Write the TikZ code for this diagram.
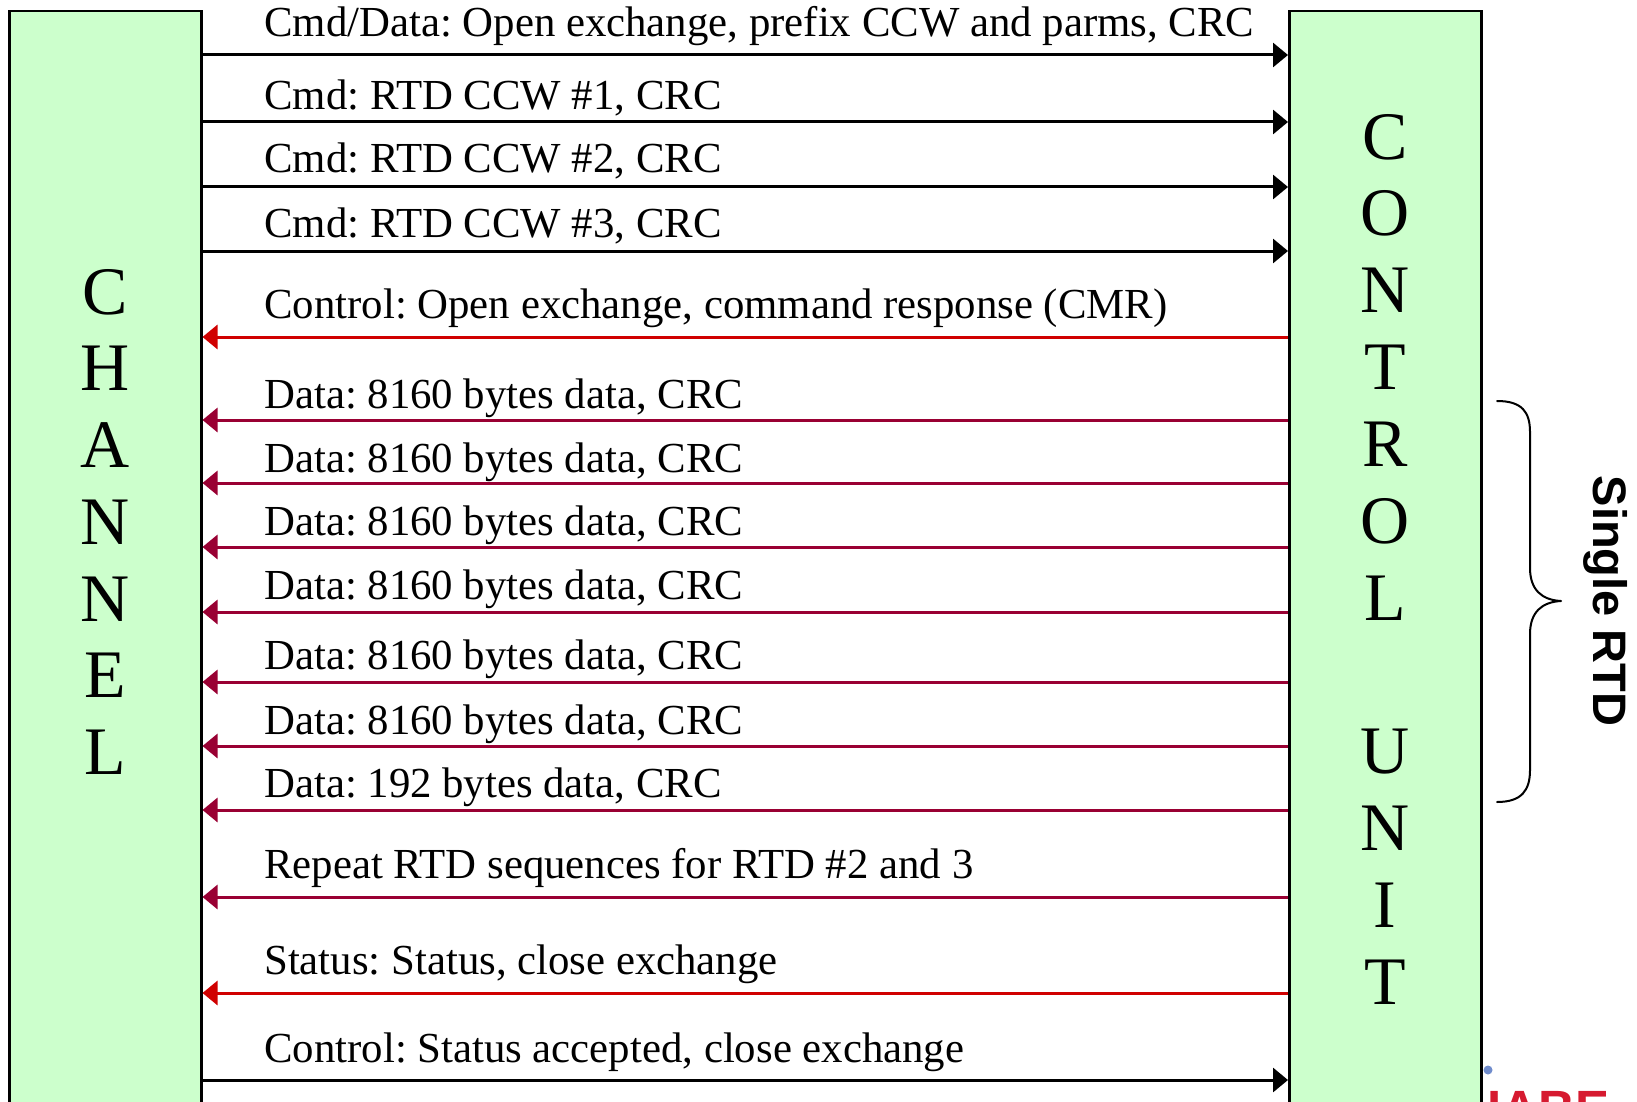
\documentclass[tikz,border=0pt]{standalone}
\usepackage{fontspec}
\setmainfont{Liberation Serif}
\newfontfamily\headsans{Liberation Sans}
\usetikzlibrary{arrows.meta}
\frenchspacing

\definecolor{boxgreen}{HTML}{CCFFCC}
\definecolor{ctlred}{RGB}{208,0,0}
\definecolor{datared}{RGB}{153,0,51}
\definecolor{logored}{RGB}{214,26,48}
\definecolor{logoblue}{RGB}{112,140,204}

\tikzset{
  unitbox/.style={draw=black, line width=2.5pt, fill=boxgreen, rectangle,
    minimum width=192pt, minimum height=1110pt, inner sep=0pt, anchor=north west},
  bigletter/.style={font=\fontsize{68}{68}\selectfont, inner sep=0pt, anchor=center},
  lbl/.style={font=\fontsize{42.8}{50}\selectfont, inner sep=0pt, anchor=base west},
  tocu/.style={draw=black, line width=3pt, -{Triangle[length=15pt, width=24pt]}},
  ctlback/.style={draw=ctlred, line width=3pt, -{Triangle[length=15pt, width=24pt]}},
  databack/.style={draw=datared, line width=3pt, -{Triangle[length=15pt, width=24pt]}},
  bracepath/.style={draw=black, line width=2pt, line cap=round, line join=round}
}

\begin{document}
\begin{tikzpicture}[x=1pt, y=-1pt]
\useasboundingbox (0,0) rectangle (1637,1102);
\clip (0,0) rectangle (1637,1102);

% the two communicating units
\node[unitbox] (ch) at (8,10) {};
\node[unitbox] (cu) at (1288,10) {};

% vertical lettering
\foreach \ch [count=\i from 0] in {C,H,A,N,N,E,L}
  \node[bigletter] (chl\i) at (105, 292+76.7*\i) {\ch};
\foreach \ch/\i in {C/0,O/1,N/2,T/3,R/4,O/5,L/6,U/8,N/9,I/10,T/11}
  \node[bigletter] (cul\i) at (1385, 137+76.8*\i) {\ch};

% row positions of the exchanges
\foreach \n/\y in {1/55,2/122,3/187,4/251,5/337,6/420,7/483,8/547,9/612,
                   10/682,11/746,12/810,13/897,14/993,15/1080}
  \coordinate (r\n) at (0,\y);

% frame labels
\node[lbl] (t1)  at (264,37) {Cmd/Data: Open exchange, prefix CCW and parms, CRC};
\node[lbl] (t2)  at (264,109.5) {Cmd: RTD CCW \#1, CRC};
\node[lbl] (t3)  at (264,173) {Cmd: RTD CCW \#2, CRC};
\node[lbl] (t4)  at (264,237) {Cmd: RTD CCW \#3, CRC};
\node[lbl] (t5)  at (264,318) {Control: Open exchange, command response (CMR)};
\node[lbl] (t6)  at (264,408) {Data: 8160 bytes data, CRC};
\node[lbl] (t7)  at (264,472) {Data: 8160 bytes data, CRC};
\node[lbl] (t8)  at (264,535.5) {Data: 8160 bytes data, CRC};
\node[lbl] (t9)  at (264,599) {Data: 8160 bytes data, CRC};
\node[lbl] (t10) at (264,669) {Data: 8160 bytes data, CRC};
\node[lbl] (t11) at (264,734) {Data: 8160 bytes data, CRC};
\node[lbl] (t12) at (264,797.5) {Data: 192 bytes data, CRC};
\node[lbl] (t13) at (264,878) {Repeat RTD sequences for RTD \#2 and 3};
\node[lbl] (t14) at (264,974) {Status: Status, close exchange};
\node[lbl] (t15) at (264,1062) {Control: Status accepted, close exchange};

% frames from channel to control unit
\foreach \n in {1,2,3,4,15}
  \draw[tocu] (ch.east |- r\n) -- (cu.west |- r\n);
% control frames back to the channel
\foreach \n in {5,14}
  \draw[ctlback] (cu.west |- r\n) -- (ch.east |- r\n);
% data frames back to the channel
\foreach \n in {6,7,8,9,10,11,12,13}
  \draw[databack] (cu.west |- r\n) -- (ch.east |- r\n);

% brace grouping one RTD
\draw[bracepath] (1497,401) .. controls (1522,401) and (1530,412) .. (1530,432)
  -- (1530,568) .. controls (1530,590) and (1542,600) .. (1561,601)
  .. controls (1542,602) and (1530,612) .. (1530,634)
  -- (1530,770) .. controls (1530,790) and (1522,802) .. (1497,802);
\node[font=\headsans\bfseries\fontsize{47}{47}\selectfont, inner sep=0pt,
      rotate=-90] (single) at (1606,601) {Single RTD};

% corner logo
\fill[logoblue] (1488,1070) circle (4.5);
\node[font=\headsans\bfseries\fontsize{51}{51}\selectfont, text=logored,
      inner sep=0pt, anchor=base west] (logo) at (1487,1126.5) {IABE};
\end{tikzpicture}
\end{document}
